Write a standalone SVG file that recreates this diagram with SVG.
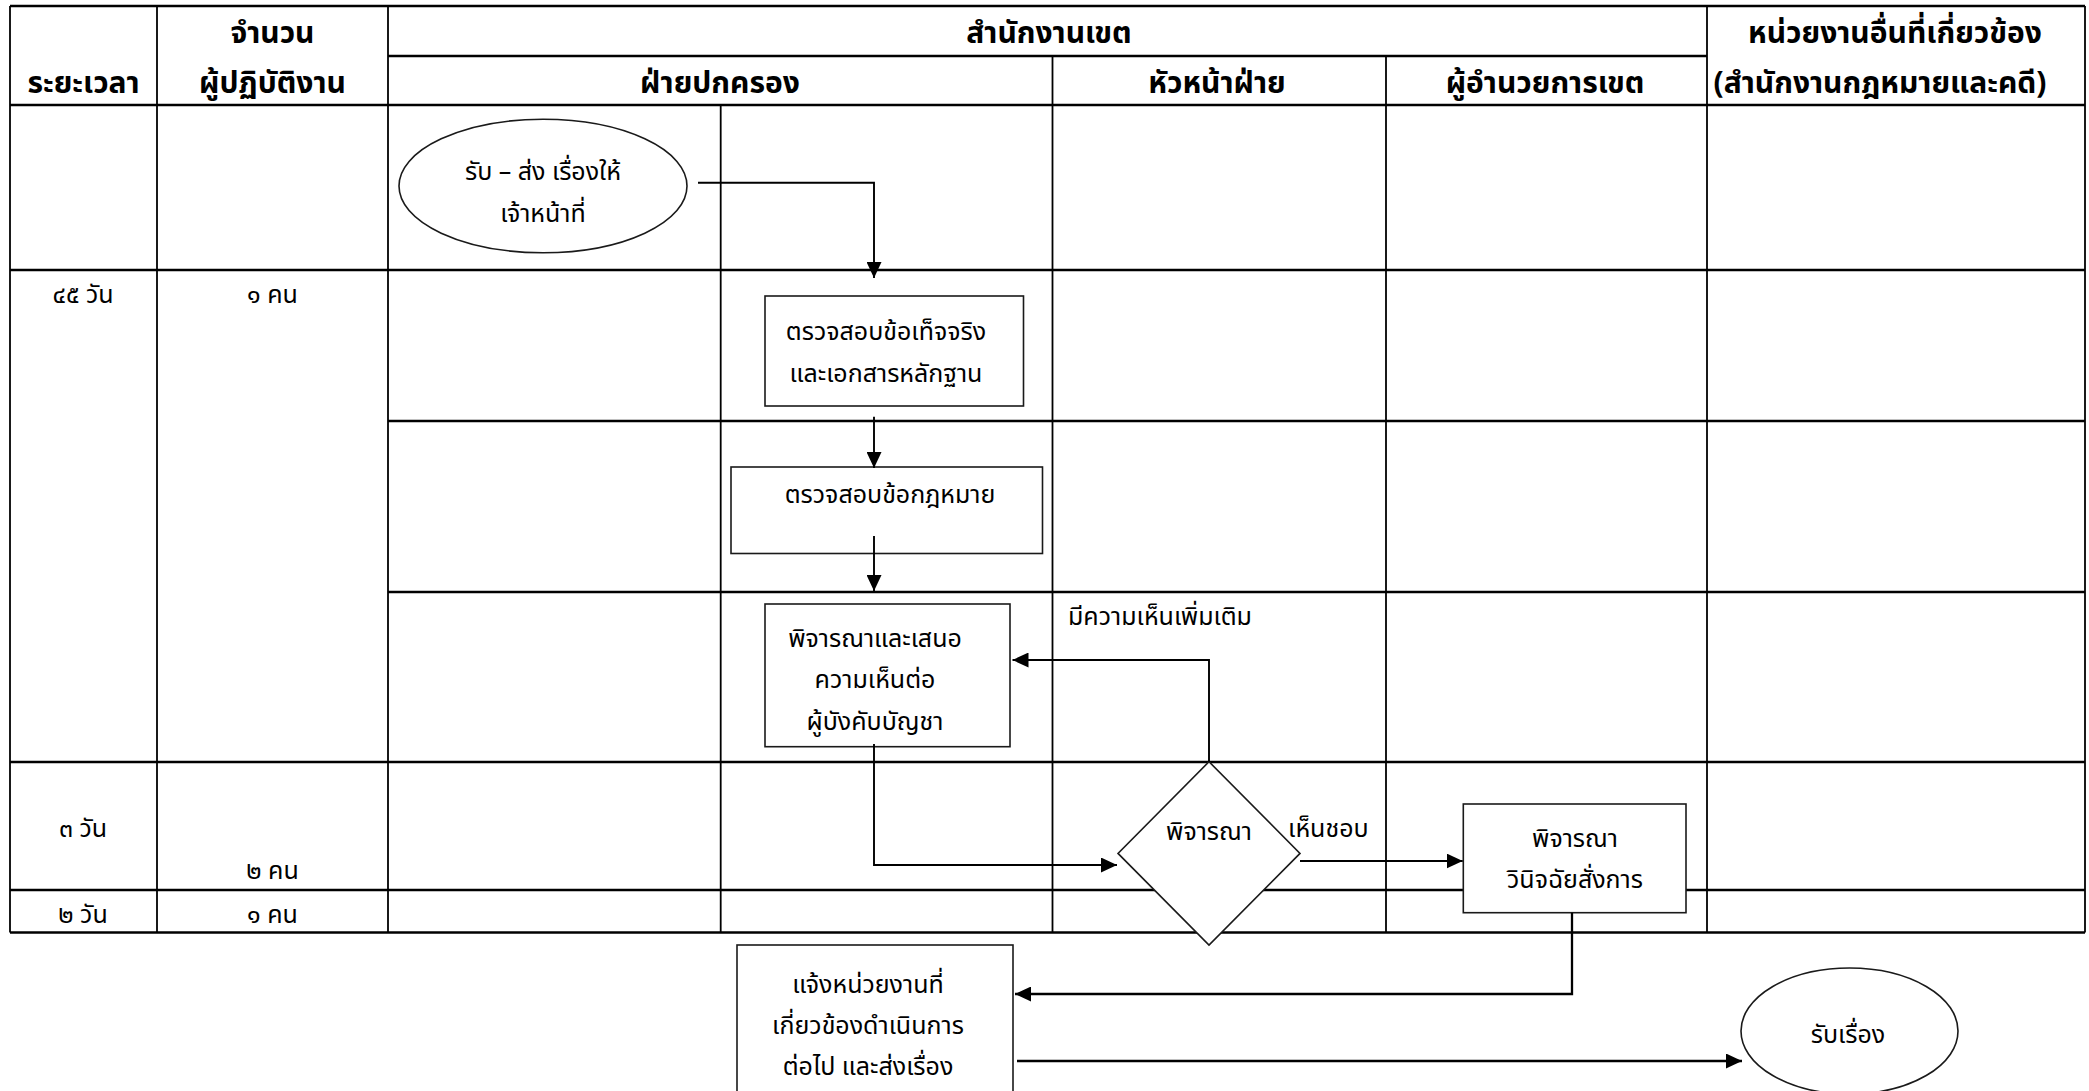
<svg xmlns="http://www.w3.org/2000/svg" width="2089" height="1091" viewBox="0 0 2089 1091">
<style>
.h{stroke:#000;stroke-width:2.6;fill:none}
.v{stroke:#000;stroke-width:1.8;fill:none}
.hdr{font-family:"Noto Sans Thai","Noto Sans","DejaVu Sans",sans-serif;font-weight:bold;font-size:30px;text-anchor:middle;fill:#000}
.t{font-family:"Noto Sans Thai","Noto Sans","DejaVu Sans",sans-serif;font-size:25px;text-anchor:middle;fill:#000}
.tl{font-family:"Noto Sans Thai","Noto Sans","DejaVu Sans",sans-serif;font-size:25px;fill:#000}
.n{fill:#fff;stroke:#1a1a1a;stroke-width:1.6}
.c{fill:none;stroke:#000;stroke-width:1.9}
.cb{fill:none;stroke:#000;stroke-width:2.3}
</style>
<defs>
<marker id="ah" markerUnits="userSpaceOnUse" markerWidth="16" markerHeight="15" refX="16" refY="7.5" orient="auto">
<path d="M0,0 L16,7.5 L0,15 z" fill="#000"/>
</marker>
</defs>
<rect width="2089" height="1091" fill="#fff"/>
<g id="table">
<line class="h" x1="10" y1="6" x2="2085" y2="6"/>
<line class="h" x1="388" y1="56" x2="1707" y2="56"/>
<line class="h" x1="10" y1="105" x2="2085" y2="105"/>
<line class="h" x1="10" y1="270" x2="2085" y2="270"/>
<line class="h" x1="388" y1="421" x2="2085" y2="421"/>
<line class="h" x1="388" y1="592" x2="2085" y2="592"/>
<line class="h" x1="10" y1="762" x2="2085" y2="762"/>
<line class="h" x1="10" y1="890" x2="2085" y2="890"/>
<line class="h" x1="10" y1="932.5" x2="2085" y2="932.5"/>
<line class="v" x1="10" y1="6" x2="10" y2="932.5"/>
<line class="v" x1="157" y1="6" x2="157" y2="932.5"/>
<line class="v" x1="388" y1="6" x2="388" y2="932.5"/>
<line class="v" x1="720.7" y1="105" x2="720.7" y2="932.5"/>
<line class="v" x1="1052.5" y1="56" x2="1052.5" y2="932.5"/>
<line class="v" x1="1386" y1="56" x2="1386" y2="932.5"/>
<line class="v" x1="1707" y1="6" x2="1707" y2="932.5"/>
<line class="v" x1="2085" y1="6" x2="2085" y2="932.5"/>
<text class="hdr" x="83.5" y="93">ระยะเวลา</text>
<text class="hdr" x="272.5" y="43">จำนวน</text>
<text class="hdr" x="272.5" y="93">ผู้ปฏิบัติงาน</text>
<text class="hdr" x="1049" y="43">สำนักงานเขต</text>
<text class="hdr" x="720" y="93">ฝ่ายปกครอง</text>
<text class="hdr" x="1217" y="93">หัวหน้าฝ่าย</text>
<text class="hdr" x="1545" y="93">ผู้อำนวยการเขต</text>
<text class="hdr" x="1895" y="43">หน่วยงานอื่นที่เกี่ยวข้อง</text>
<text class="hdr" x="1880" y="93">(สำนักงานกฎหมายและคดี)</text>
<text class="t" x="83" y="303">๔๕ วัน</text>
<text class="t" x="272.5" y="303">๑ คน</text>
<text class="t" x="83" y="837">๓ วัน</text>
<text class="t" x="272.5" y="879">๒ คน</text>
<text class="t" x="83" y="923">๒ วัน</text>
<text class="t" x="272.5" y="923">๑ คน</text>
</g>
<g id="n-start">
<ellipse class="n" cx="543" cy="186" rx="144" ry="66.7"/>
<text class="t" x="543" y="180">รับ – ส่ง เรื่องให้</text>
<text class="t" x="543" y="222">เจ้าหน้าที่</text>
</g>
<g id="n-check-facts">
<rect class="n" x="765" y="296" width="258.5" height="110"/>
<text class="t" x="886" y="340">ตรวจสอบข้อเท็จจริง</text>
<text class="t" x="886" y="382">และเอกสารหลักฐาน</text>
</g>
<g id="n-check-law">
<rect class="n" x="731" y="467" width="311.5" height="86.5"/>
<text class="t" x="890" y="503">ตรวจสอบข้อกฎหมาย</text>
</g>
<g id="n-propose">
<rect class="n" x="765" y="604" width="245" height="142.7"/>
<text class="t" x="875" y="647">พิจารณาและเสนอ</text>
<text class="t" x="875" y="688">ความเห็นต่อ</text>
<text class="t" x="875" y="730">ผู้บังคับบัญชา</text>
</g>
<g id="n-decision">
<polygon class="n" points="1209,761.7 1300,853.4 1209,945 1118,853.4"/>
<text class="t" x="1209" y="840">พิจารณา</text>
</g>
<g id="n-director">
<rect class="n" x="1463.3" y="804" width="222.7" height="108.7"/>
<text class="t" x="1575" y="847">พิจารณา</text>
<text class="t" x="1575" y="888">วินิจฉัยสั่งการ</text>
</g>
<g id="n-notify">
<rect class="n" x="737" y="945" width="276" height="160"/>
<text class="t" x="868" y="993">แจ้งหน่วยงานที่</text>
<text class="t" x="868" y="1034">เกี่ยวข้องดำเนินการ</text>
<text class="t" x="868" y="1075">ต่อไป และส่งเรื่อง</text>
</g>
<g id="n-receive">
<ellipse class="n" cx="1849.5" cy="1031" rx="108.5" ry="63"/>
<text class="t" x="1848" y="1043">รับเรื่อง</text>
</g>
<g id="connectors">
<polyline class="c" points="698,182.7 874,182.7 874,278" marker-end="url(#ah)"/>
<polyline class="c" points="874,416.7 874,468" marker-end="url(#ah)"/>
<polyline class="c" points="874,536 874,591" marker-end="url(#ah)"/>
<polyline class="c" points="874,744 874,865 1117,865" marker-end="url(#ah)"/>
<polyline class="c" points="1209,761.7 1209,660 1012.5,660" marker-end="url(#ah)"/>
<polyline class="c" points="1300,861 1462.7,861" marker-end="url(#ah)"/>
<polyline class="cb" points="1572,912.7 1572,994 1015,994" marker-end="url(#ah)"/>
<polyline class="cb" points="1017,1061 1742,1061" marker-end="url(#ah)"/>
<text class="tl" x="1068" y="625">มีความเห็นเพิ่มเติม</text>
<text class="tl" x="1288" y="837">เห็นชอบ</text>
</g>
</svg>
